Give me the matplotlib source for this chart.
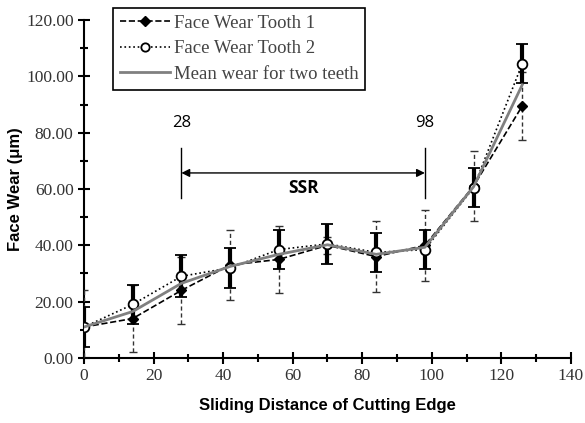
import matplotlib.pyplot as plt
from matplotlib.lines import Line2D

distance = [0, 14, 28, 42, 56, 70, 84, 98, 112, 126]
tooth1 = [11, 14, 24, 33, 35, 40, 36, 40, 61, 89.5]
tooth1_err = [13, 12, 12, 12.5, 12, 3, 12.5, 12.5, 12.5, 12]
tooth2 = [11, 19, 29, 32, 38.5, 40.5, 37.5, 38.5, 60.5, 104.5]
tooth2_err = [7, 7, 7.5, 7, 7, 7, 7, 7, 7, 7]
mean_wear = [11, 16.5, 26.5, 32.5, 36.8, 40.2, 36.8, 39.3, 60.8, 97]

ssr_start, ssr_end = 28, 98

serif = 'Liberation Serif'
sans = 'Open Sans'

fig = plt.figure(figsize=(5.85, 4.23), dpi=100)
ax = fig.add_axes([0.1436, 0.1537, 0.8324, 0.799])

# tooth 1: dashed line, diamonds, thin dashed error bars
eb1 = ax.errorbar(distance, tooth1, yerr=tooth1_err, color='black', linestyle='--',
                  linewidth=1.2, marker='D', markersize=5, markerfacecolor='black',
                  ecolor='#333333', elinewidth=1, capsize=3, capthick=1, zorder=3)
for bar in eb1[2]:
    bar.set_linestyle((0, (3, 2)))

# tooth 2: dotted line, open circles, thick solid error bars
ax.errorbar(distance, tooth2, yerr=tooth2_err, color='black', linestyle=':',
            linewidth=1.2, marker='o', markersize=7, markerfacecolor='white',
            markeredgewidth=1.3, ecolor='black', elinewidth=3, capsize=4,
            capthick=2.5, zorder=4)

ax.plot(distance, mean_wear, color='#808080', linewidth=2, zorder=5)

# SSR annotation
for xv in (ssr_start, ssr_end):
    ax.plot([xv, xv], [56.8, 74.5], color='black', linewidth=1)
    ax.text(xv, 80.5, str(xv), family=sans, fontsize=12, ha='center', va='bottom')
ax.annotate('', xy=(ssr_start, 65.7), xytext=(ssr_end, 65.7),
            arrowprops=dict(arrowstyle='<|-|>', color='black', lw=1,
                            mutation_scale=12, shrinkA=0, shrinkB=0))
ax.text((ssr_start + ssr_end) / 2, 60.5, 'SSR', family=sans, fontsize=12.5,
        fontweight='bold', ha='center', va='center')

ax.set_xlim(0, 140)
ax.set_ylim(0, 120)
ax.set_xticks(range(0, 141, 20))
ax.set_xticks(range(0, 141, 10), minor=True)
ax.set_yticks(range(0, 121, 20))
ax.set_yticks(range(0, 121, 10), minor=True)
ax.set_yticklabels([f'{v:.2f}' for v in range(0, 121, 20)])
ax.tick_params(which='both', direction='inout', width=1.5, labelsize=12.5)
ax.tick_params(which='major', length=8)
ax.tick_params(which='minor', length=6)
for lbl in ax.get_xticklabels() + ax.get_yticklabels():
    lbl.set_family(serif)
    lbl.set_color('#333333')
ax.spines['top'].set_visible(False)
ax.spines['right'].set_visible(False)
ax.spines['left'].set_linewidth(1.5)
ax.spines['bottom'].set_linewidth(1.5)

ax.set_xlabel('Sliding Distance of Cutting Edge', family='Liberation Sans',
              fontsize=12, fontweight='bold', labelpad=10)
ax.set_ylabel('Face Wear (μm)', family='Liberation Sans', fontsize=12,
              fontweight='bold', labelpad=2)

handles = [
    Line2D([], [], color='black', linestyle='--', linewidth=1.2, marker='D',
           markersize=5, markerfacecolor='black'),
    Line2D([], [], color='black', linestyle=':', linewidth=1.2, marker='o',
           markersize=6, markerfacecolor='white', markeredgewidth=1.3),
    Line2D([], [], color='#808080', linewidth=2),
]
labels = ['Face Wear Tooth 1', 'Face Wear Tooth 2', 'Mean wear for two teeth']
leg = ax.legend(handles, labels, loc='upper left', bbox_to_anchor=(0.0596, 1.035),
                frameon=True, fancybox=False, edgecolor='black', framealpha=1,
                prop={'family': serif, 'size': 13.5}, handlelength=2.7,
                labelspacing=0.45, borderpad=0.35, handletextpad=0.2,
                borderaxespad=0)
leg.get_frame().set_linewidth(1.2)
for t in leg.get_texts():
    t.set_color('#444444')

fig.savefig('out.png', dpi=100)
